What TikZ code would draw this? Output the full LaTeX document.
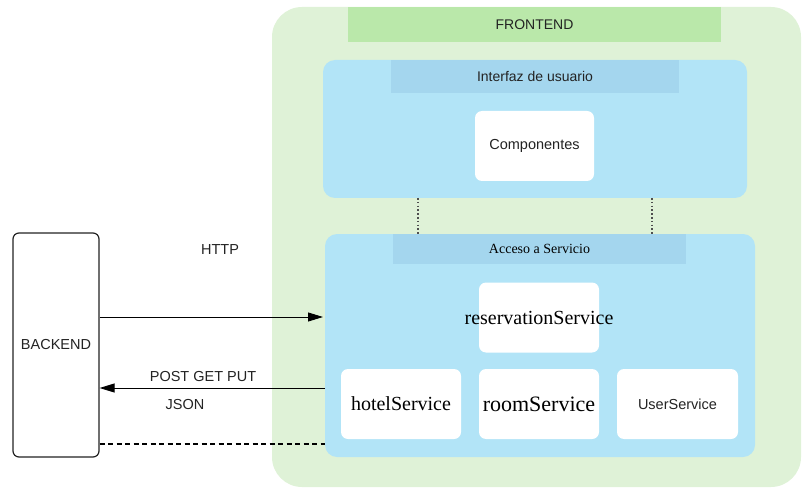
\documentclass[tikz,border=0pt]{standalone}
\usepackage{fontspec}
\setmainfont{Liberation Sans}
\newfontfamily\servfont{Liberation Serif}
\usetikzlibrary{arrows.meta}
\definecolor{feBg}{RGB}{223,242,215}
\definecolor{feHead}{RGB}{186,232,170}
\definecolor{layerBg}{RGB}{178,228,247}
\definecolor{layerHead}{RGB}{164,214,238}
\definecolor{inkGray}{RGB}{35,35,35}
\tikzset{
  box/.style={draw=none, inner sep=0pt, outer sep=0pt, anchor=center},
  outerbox/.style={box, fill=feBg, rounded corners=30pt},
  headbar/.style={box, font=\fontsize{14}{16}\selectfont, text=inkGray},
  layer/.style={box, fill=layerBg, rounded corners=12pt},
  card/.style={box, fill=white, rounded corners=7pt, minimum width=120pt, minimum height=70pt},
  servtext/.style={font=\servfont\fontsize{20}{22}\selectfont, text=black, inner sep=0pt},
  sanslabel/.style={font=\fontsize{14.5}{16}\selectfont, text=inkGray, inner sep=0pt},
  backendbox/.style={draw=inkGray, line width=1.2pt, rounded corners=6pt, fill=white,
    minimum width=86pt, minimum height=224pt, inner sep=0pt, font=\fontsize{14.5}{16}\selectfont, text=inkGray},
  flow/.style={draw=black, line width=0.9pt, -{Triangle[length=15pt,width=9pt]}},
  linkdots/.style={draw=inkGray!80, line width=1.6pt, dash pattern=on 1.6pt off 2.2pt},
  linkdash/.style={draw=black, line width=1.1pt, dash pattern=on 5pt off 3.5pt}
}
\begin{document}
\begin{tikzpicture}[x=1pt, y=-1pt]
  \useasboundingbox (0,0) rectangle (802,494);

  % frontend container
  \node[outerbox, minimum width=529pt, minimum height=480pt] (fe) at (536.5,247) {};
  \node[headbar, fill=feHead, minimum width=373pt, minimum height=35pt] (fehead) at (534.5,24.5) {FRONTEND};

  % user interface layer
  \node[layer, minimum width=424pt, minimum height=138pt] (ui) at (535,129) {};
  \node[headbar, fill=layerHead, minimum width=288pt, minimum height=33pt] (uihead) at (535,76.5) {Interfaz de usuario};
  \node[card, minimum width=119pt, font=\fontsize{14.5}{16}\selectfont, text=inkGray] (comp) at (534.5,146) {Componentes};

  % service access layer
  \node[layer, minimum width=430pt, minimum height=223pt] (svc) at (540,345.5) {};
  \node[headbar, fill=layerHead, minimum width=293pt, minimum height=30pt,
        font=\servfont\fontsize{14}{16}\selectfont, text=black] (svchead) at (539.5,249) {Acceso a Servicio};

  \node[card] (res) at (539,317.5) {};
  \node[servtext] (reslbl) at (res) {reservationService};
  \node[card] (hotel) at (401,404) {};
  \node[servtext] (hotellbl) at (hotel) {hotelService};
  \node[card] (room) at (539,404) {};
  \node[servtext, font=\servfont\fontsize{22}{24}\selectfont] (roomlbl) at (room) {roomService};
  \node[card, minimum width=121pt] (user) at (677.5,404) {};
  \node[sanslabel] (userlbl) at (user) {UserService};

  % links between the two layers
  \coordinate (linkA) at (418,0);
  \coordinate (linkB) at (652,0);
  \draw[linkdots] (ui.south -| linkA) -- (svc.north -| linkA);
  \draw[linkdots] (ui.south -| linkB) -- (svc.north -| linkB);

  % backend and its connections
  \node[backendbox] (be) at (56,345) {BACKEND};
  \coordinate (reqY) at (0,317);
  \coordinate (respY) at (0,388);
  \coordinate (dashY) at (0,444);
  \draw[flow] (be.east |- reqY) -- ([xshift=-2pt]svc.west |- reqY);
  \draw[flow] (svc.west |- respY) -- (be.east |- respY);
  \draw[linkdash] (be.east |- dashY) -- (svc.west |- dashY);

  \node[sanslabel] (http) at (220,250) {HTTP};
  \node[sanslabel] (verbs) at (203,377) {POST GET PUT};
  \node[sanslabel] (json) at (185,405) {JSON};
\end{tikzpicture}
\end{document}
